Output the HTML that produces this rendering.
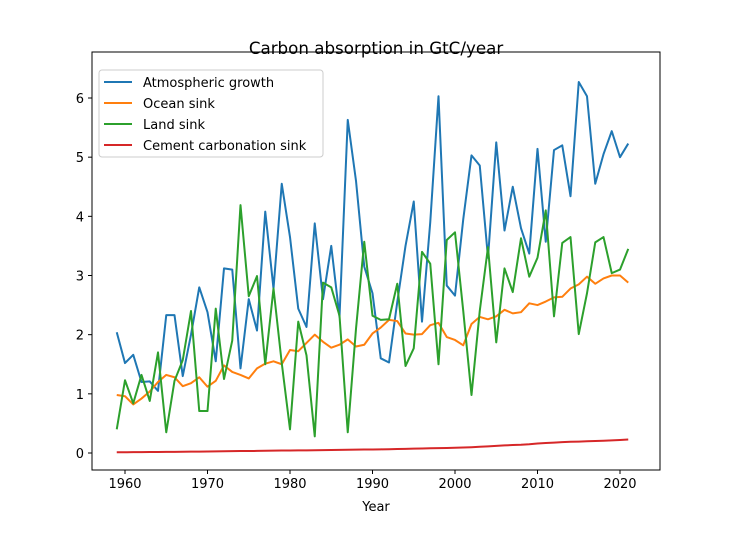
<!DOCTYPE html>
<html><head><meta charset="utf-8"><style>
body{margin:0;background:#fff;font-family:"DejaVu Sans","Liberation Sans",sans-serif;}
svg text{font-family:"DejaVu Sans","Liberation Sans",sans-serif;}
</style></head><body>
<svg id="chart" width="733" height="529" xmlns="http://www.w3.org/2000/svg"></svg>
<script>
const years=[];for(let y=1959;y<=2021;y++)years.push(y);
const atmospheric=[2.04,1.52,1.66,1.20,1.21,1.05,2.33,2.33,1.30,2.00,2.80,2.38,1.55,3.12,3.10,1.43,2.60,2.07,4.08,2.78,4.55,3.65,2.44,2.13,3.88,2.60,3.50,2.30,5.63,4.60,3.15,2.70,1.60,1.53,2.55,3.50,4.25,2.22,3.90,6.03,2.83,2.66,3.95,5.03,4.86,3.30,5.25,3.76,4.50,3.80,3.37,5.14,3.57,5.12,5.20,4.34,6.27,6.03,4.55,5.05,5.44,5.00,5.23];
const ocean=[0.98,0.96,0.82,0.92,1.04,1.20,1.32,1.28,1.13,1.18,1.28,1.12,1.22,1.48,1.37,1.32,1.26,1.43,1.51,1.55,1.50,1.74,1.72,1.86,2.00,1.88,1.78,1.83,1.92,1.80,1.83,2.02,2.12,2.25,2.23,2.02,2.00,2.01,2.16,2.20,1.96,1.91,1.82,2.18,2.30,2.26,2.31,2.42,2.36,2.38,2.53,2.50,2.56,2.63,2.64,2.78,2.85,2.98,2.86,2.95,3.00,3.00,2.88];
const land=[0.40,1.23,0.84,1.32,0.88,1.70,0.35,1.22,1.57,2.40,0.71,0.71,2.44,1.25,1.90,4.19,2.65,2.99,1.50,2.78,1.52,0.40,2.22,1.65,0.28,2.88,2.80,2.32,0.35,2.10,3.57,2.32,2.25,2.26,2.86,1.47,1.77,3.40,3.20,1.50,3.60,3.73,2.40,0.98,2.40,3.48,1.87,3.12,2.72,3.63,2.98,3.30,4.10,2.31,3.55,3.65,2.01,2.70,3.56,3.65,3.04,3.10,3.45];
const cement=[0.012,0.013,0.014,0.015,0.016,0.018,0.019,0.020,0.021,0.023,0.024,0.026,0.028,0.030,0.032,0.033,0.033,0.035,0.037,0.040,0.042,0.043,0.044,0.045,0.047,0.049,0.051,0.053,0.055,0.058,0.059,0.060,0.062,0.064,0.067,0.070,0.074,0.077,0.080,0.082,0.085,0.088,0.092,0.098,0.105,0.112,0.120,0.128,0.135,0.140,0.148,0.160,0.168,0.175,0.183,0.190,0.193,0.198,0.203,0.208,0.213,0.220,0.228];
const xTicks=[1960,1970,1980,1990,2000,2010,2020];
const yTicks=[0,1,2,3,4,5,6];
const seriesNames=["Atmospheric growth","Ocean sink","Land sink","Cement carbonation sink"];
const seriesColors=["#1f77b4","#ff7f0e","#2ca02c","#d62728"];
const seriesKeys=["atmospheric-growth","ocean-sink","land-sink","cement-carbonation-sink"];

const NS="http://www.w3.org/2000/svg";
const svg=document.getElementById('chart');
const L=92,R=660,T=52,B=470;
const xs=y=>125+(y-1960)*(620-125)/60;
const ys=v=>453+(v-0)*(98-453)/6;
function mk(tag,attrs,parent){const e=document.createElementNS(NS,tag);for(const k in attrs)e.setAttribute(k,attrs[k]);(parent||svg).appendChild(e);return e;}

const title=mk('text',{x:(L+R)/2,y:54,'text-anchor':'middle','font-size':16.7,fill:'#000'});
title.textContent="Carbon absorption in GtC/year";



const plots=[atmospheric,ocean,land,cement];
plots.forEach((arr,i)=>{
  const d=arr.map((v,j)=>(j?'L':'M')+xs(years[j]).toFixed(2)+' '+ys(v).toFixed(2)).join(' ');
  const p=mk('path',{d:d,fill:'none',stroke:seriesColors[i],'stroke-width':2,'stroke-linejoin':'round'});
  
  
});

const frame=mk('rect',{x:L,y:T,width:R-L,height:B-T,fill:'none',stroke:'#000','stroke-width':1});



xTicks.forEach(t=>{
  const x=xs(t);
  mk('line',{x1:x,x2:x,y1:B,y2:B+4,stroke:'#000'});
  const tx=mk('text',{x:x,y:B+18,'text-anchor':'middle','font-size':13,fill:'#000'});
  tx.textContent=t;
  
  
});
yTicks.forEach(t=>{
  const y=ys(t);
  mk('line',{x1:L-4,x2:L,y1:y,y2:y,stroke:'#000'});
  const tx=mk('text',{x:L-8,y:y+5,'text-anchor':'end','font-size':13,fill:'#000'});
  tx.textContent=t;
  
  
});
const xl=mk('text',{x:(L+R)/2,y:511,'text-anchor':'middle','font-size':13,fill:'#000'});
xl.textContent="Year";



const lg=mk('g',{});


mk('rect',{x:99,y:70,width:224,height:87,rx:3,fill:'#fff','fill-opacity':0.8,stroke:'#ccc'},lg);
seriesNames.forEach((n,i)=>{
  const y=82+i*21;
  const ln=mk('line',{x1:104,x2:132,y1:y,y2:y,stroke:seriesColors[i],'stroke-width':2},lg);
  const tx=mk('text',{x:143,y:y+5,'font-size':13,fill:'#000'},lg);
  tx.textContent=n;
  
  
});
</script>
</body></html>
